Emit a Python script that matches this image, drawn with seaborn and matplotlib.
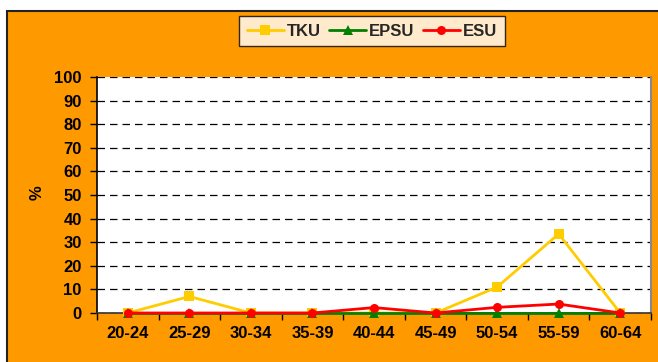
import matplotlib
matplotlib.use("Agg")
import matplotlib.pyplot as plt
import matplotlib.patches as mpatches
from matplotlib.ticker import FixedLocator
import seaborn as sns
import pandas as pd
import numpy as np

age_groups = ["20-24", "25-29", "30-34", "35-39", "40-44", "45-49", "50-54", "55-59", "60-64"]
tku = [0, 7.0, 0, 0, 0, 0, 11.0, 33.5, 0]
epsu = [0, 0, 0, 0, 0, 0, 0, 0, 0]
esu = [0, 0, 0, 0, 2.3, 0, 2.4, 3.8, 0]

series_names = ["TKU", "EPSU", "ESU"]
colors = {"TKU": "#FFCC00", "EPSU": "#008000", "ESU": "#FF0000"}
markers = {"TKU": "s", "EPSU": "^", "ESU": "o"}

frames = []
for name, vals in zip(series_names, [tku, epsu, esu]):
    frames.append(pd.DataFrame({"pos": np.arange(len(age_groups)), "value": vals, "series": name}))
df = pd.concat(frames, ignore_index=True)

sns.set_theme(style="white")
plt.rcParams["font.family"] = ["Liberation Sans", "DejaVu Sans"]
plt.rcParams["font.weight"] = "bold"

fig = plt.figure(figsize=(6.58, 3.62), dpi=100)
fig.patch.set_facecolor("white")

# orange chart area with dark frame
bg = mpatches.Rectangle((7 / 658, -0.01), 1.0, (362 - 11) / 362 + 0.01,
                        transform=fig.transFigure, facecolor="#FF9900",
                        edgecolor="#222222", linewidth=1.5, zorder=-10)
fig.patches.append(bg)

ax = fig.add_axes([97 / 658, 49 / 362, (651 - 97) / 658, (313 - 77) / 362])
ax.set_facecolor("white")

for name in series_names:
    sub = df[df["series"] == name]
    sns.lineplot(data=sub, x="pos", y="value", ax=ax, color=colors[name],
                 marker=markers[name], markersize=6.5, linewidth=2.0,
                 markeredgewidth=0, label=name, zorder=4, clip_on=False)

ax.set_xlim(-0.5, len(age_groups) - 0.5)
ax.set_ylim(0, 100)
ax.set_yticks(np.arange(0, 101, 10))
ax.set_xticks(np.arange(len(age_groups)))
ax.set_xticklabels(age_groups, fontsize=12, fontweight="bold")
ax.tick_params(axis="x", which="major", length=0, pad=9, labelcolor="black")
ax.xaxis.set_minor_locator(FixedLocator(np.arange(-0.5, len(age_groups), 1.0)))
ax.tick_params(axis="x", which="minor", length=5, width=1, color="black", direction="out", bottom=True)
ax.tick_params(axis="y", length=5, width=1, color="black", direction="out", left=True,
               labelsize=12, pad=6, labelcolor="black")
for lbl in ax.get_yticklabels():
    lbl.set_fontweight("bold")

ax.grid(axis="y", color="black", linestyle=(0, (6, 4)), linewidth=0.9)
ax.grid(axis="x", visible=False)
ax.set_axisbelow(True)

ax.spines["top"].set_visible(False)
ax.spines["left"].set_color("black")
ax.spines["left"].set_linewidth(1.2)
ax.spines["bottom"].set_color("#333333")
ax.spines["bottom"].set_linewidth(1.2)
ax.spines["right"].set_color("#888888")
ax.spines["right"].set_linewidth(1.5)
for sp in ax.spines.values():
    sp.set_zorder(2)

ax.set_xlabel("")
ax.set_ylabel("%", fontsize=12, fontweight="bold", color="black")
ax.yaxis.set_label_coords(-0.095, 0.51)

handles, labels = ax.get_legend_handles_labels()
ax.get_legend().remove()
leg = fig.legend(handles, labels, loc="center", bbox_to_anchor=(372 / 658, 1 - 31 / 362),
                 ncol=3, frameon=True, fancybox=False, edgecolor="black",
                 handlelength=2.2, handletextpad=0.2, columnspacing=0.5,
                 borderpad=0.45, prop={"weight": "bold", "size": 12})
leg.get_frame().set_linewidth(1.0)
leg.get_frame().set_facecolor("white")

fig.savefig("out.png", dpi=100)
